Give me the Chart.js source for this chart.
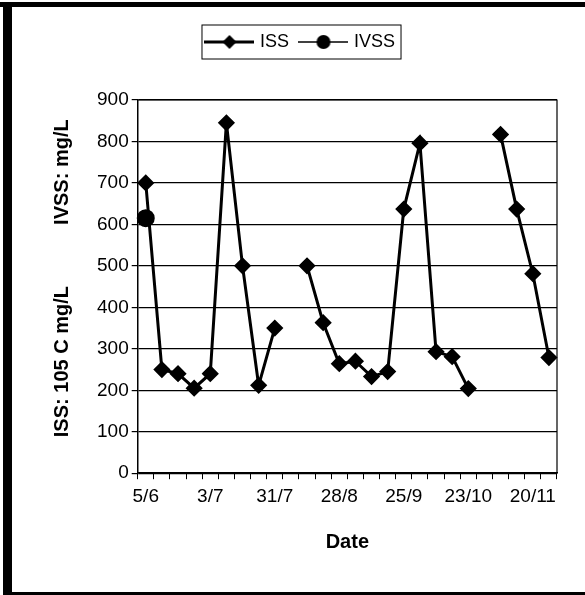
<!DOCTYPE html>
<html>
<head>
<meta charset="utf-8">
<title>ISS / IVSS</title>
<script src="https://cdn.jsdelivr.net/npm/chart.js@4.4.0/dist/chart.umd.min.js"></script>
<style>
  html, body { margin: 0; padding: 0; background: #fff; }
  #wrap { width: 585px; height: 595px; position: relative; }
</style>
</head>
<body>
<div id="wrap"><canvas id="myChart"></canvas></div>
<script>
// weekly sampling dates (categories)
const dates = ['5/6', '12/6', '19/6', '26/6', '3/7', '10/7', '17/7', '24/7', '31/7', '7/8',
  '14/8', '21/8', '28/8', '4/9', '11/9', '18/9', '25/9', '2/10', '9/10', '16/10',
  '23/10', '30/10', '6/11', '13/11', '20/11', '27/11'];
// dates that get a label on the x axis
const tickLabels = ['5/6', '3/7', '31/7', '28/8', '25/9', '23/10', '20/11'];

const issValues = [700, 250, 240, 205, 240, 845, 500, 212, 350, null,
  500, 363, 264, 270, 233, 245, 637, 796, 293, 281,
  204, null, 817, 637, 481, 279];
const ivssValues = [615, null, null, null, null, null, null, null, null, null,
  null, null, null, null, null, null, null, null, null, null,
  null, null, null, null, null, null];

const FONT = 'Liberation Sans, Arial, sans-serif';

// little line+marker pictures for the legend
function legendMarker(style, lw) {
  const c = document.createElement('canvas');
  c.width = 50; c.height = 18;
  const g = c.getContext('2d');
  g.strokeStyle = '#000';
  g.lineWidth = lw;
  g.beginPath(); g.moveTo(0, 9); g.lineTo(50, 9); g.stroke();
  g.fillStyle = '#000';
  g.beginPath();
  if (style === 'diamond') {
    g.moveTo(25, 2); g.lineTo(32, 9); g.lineTo(25, 16); g.lineTo(18, 9); g.closePath();
  } else {
    g.arc(25, 9, 7, 0, Math.PI * 2);
  }
  g.fill();
  return c;
}
const issMarker = legendMarker('diamond', 3);
const ivssMarker = legendMarker('circle', 1.5);

// scanned page frame + plot box + legend box
const framePlugin = {
  id: 'frame',
  afterInit(chart) {
    // leave room between the legend and the plot
    const leg = chart.legend;
    const fit = leg.fit;
    leg.fit = function() {
      fit.call(this);
      this.height += 39;
    };
  },
  afterDraw(chart) {
    const ctx = chart.ctx;
    const a = chart.chartArea;
    ctx.save();
    ctx.fillStyle = '#000';
    ctx.fillRect(0, 2, 585, 5);
    ctx.fillRect(3, 2, 9, 593);
    ctx.fillRect(3, 592, 582, 3);

    ctx.strokeStyle = '#000';
    ctx.lineWidth = 1.2;
    ctx.beginPath();
    ctx.moveTo(a.left, a.top);
    ctx.lineTo(a.right, a.top);
    ctx.lineTo(a.right, a.bottom);
    ctx.stroke();

    const hb = chart.legend.legendHitBoxes;
    if (hb && hb.length) {
      let l = Infinity, r = -Infinity;
      hb.forEach(function(b) {
        l = Math.min(l, b.left);
        r = Math.max(r, b.left + b.width);
      });
      const t = hb[0].top, h = hb[0].height;
      ctx.lineWidth = 1;
      ctx.strokeRect(l - 6, t - 8, r - l + 12, h + 16);
    }
    ctx.restore();
  }
};

const ctx = document.getElementById('myChart').getContext('2d');

const chart = new Chart(ctx, {
  type: 'line',
  data: {
    labels: dates,
    datasets: [{
      label: 'ISS',
      data: issValues,
      borderColor: '#000',
      backgroundColor: '#000',
      borderWidth: 3,
      pointStyle: 'rectRot',
      pointRadius: 6.5,
      pointBackgroundColor: '#000',
      pointBorderColor: '#000',
      spanGaps: false,
      tension: 0
    },
    {
      label: 'IVSS',
      data: ivssValues,
      borderColor: '#000',
      backgroundColor: '#000',
      borderWidth: 3,
      pointStyle: 'circle',
      pointRadius: 7.5,
      pointBackgroundColor: '#000',
      pointBorderColor: '#000',
      spanGaps: false
    }]
  },
  options: {
    responsive: true,
    maintainAspectRatio: false,
    animation: false,
    layout: { padding: { left: 46, right: 28, top: 20, bottom: 37 } },
    plugins: {
      tooltip: { enabled: false },
      legend: {
        position: 'top',
        labels: {
          color: '#000',
          font: { family: FONT, size: 18 },
          usePointStyle: true,
          pointStyleWidth: 43,
          padding: 13,
          generateLabels: function(chart) {
            const items = Chart.defaults.plugins.legend.labels.generateLabels(chart);
            items[0].pointStyle = issMarker;
            items[1].pointStyle = ivssMarker;
            return items;
          }
        }
      }
    },
    scales: {
      x: {
        type: 'category',
        offset: true,
        grid: {
          display: true,
          offset: true,
          drawOnChartArea: false,
          drawTicks: true,
          tickLength: 6,
          color: '#000'
        },
        border: { color: '#000', width: 1.5 },
        ticks: {
          autoSkip: false,
          maxRotation: 0,
          minRotation: 0,
          color: '#000',
          padding: 6,
          font: { family: FONT, size: 19 },
          callback: function(v, i) {
            return tickLabels.indexOf(dates[i]) >= 0 ? dates[i] : '';
          }
        },
        title: {
          display: true,
          text: 'Date',
          color: '#000',
          font: { family: FONT, size: 20, weight: 'bold' },
          padding: { top: 16 }
        }
      },
      y: {
        min: 0,
        max: 900,
        grid: { color: '#000', lineWidth: 1.2, tickLength: 6 },
        border: { color: '#000', width: 1.5 },
        ticks: {
          stepSize: 100,
          color: '#000',
          padding: 3,
          font: { family: FONT, size: 19 }
        },
        title: {
          display: true,
          text: '   ISS: 105 C mg/L           IVSS: mg/L',
          color: '#000',
          font: { family: FONT, size: 20, weight: 'bold' },
          padding: { bottom: 20 }
        }
      }
    }
  },
  plugins: [framePlugin]
});
</script>
</body>
</html>
